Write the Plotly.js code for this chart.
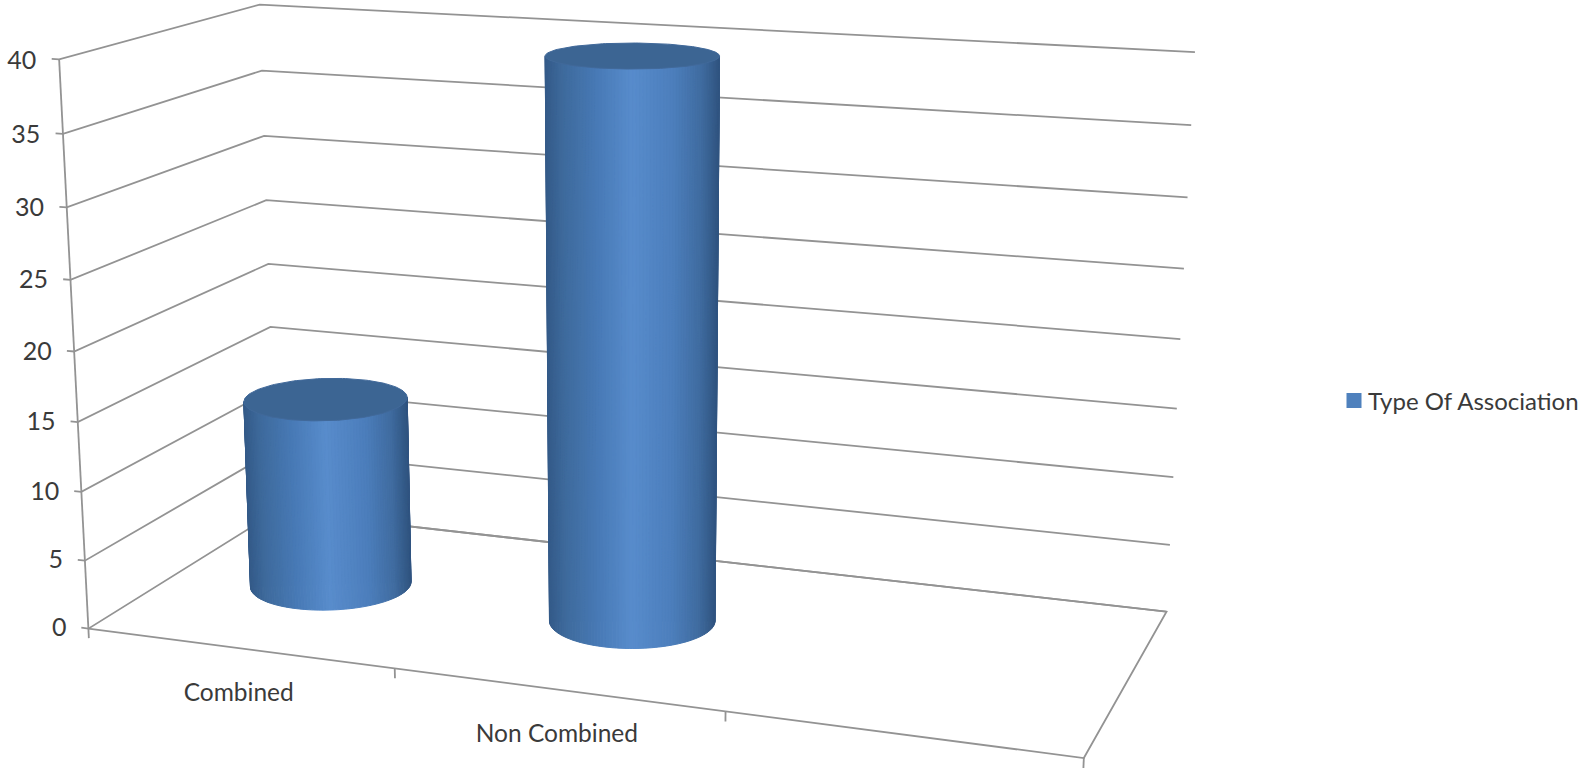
<!DOCTYPE html>
<html>
<head>
<meta charset="utf-8">
<title>Type Of Association</title>
<script src="https://cdn.plot.ly/plotly-3.0.1.min.js"></script>
<style>html,body{margin:0;padding:0;background:#fff}#chart{width:1590px;height:768px}</style>
</head>
<body>
<div id="chart"></div>
<script>
// Chart data
const seriesName = 'Type Of Association';
const categories = ['Combined', 'Non Combined', ''];
const seriesValues = [14, 40];
const valueTicks = [0, 5, 10, 15, 20, 25, 30, 35, 40];
const valueMax = 40;

// Box corners as (category fraction, depth fraction, value fraction) -> plot position.
const calibration = [
  [0, 0, 0, 88, 628], [1, 0, 0, 1085, 758], [0, 1, 0, 277, 512], [1, 1, 0, 1166, 611.5],
  [0, 0, 1, 59.5, 60], [0, 1, 1, 260, 4], [1, 1, 1, 1195, 52],
  [0, 0, 0.375, 78, 422], [0, 0, 0.875, 62.5, 134], [1, 1, 0.375, 1179, 409], [1, 1, 0.875, 1192, 125]
];

function solve(A, b) {
  const n = b.length, M = A.map((r, i) => r.concat(b[i]));
  for (let i = 0; i < n; i++) {
    let p = i;
    for (let k = i + 1; k < n; k++) if (Math.abs(M[k][i]) > Math.abs(M[p][i])) p = k;
    [M[i], M[p]] = [M[p], M[i]];
    for (let k = 0; k < n; k++) {
      if (k === i) continue;
      const f = M[k][i] / M[i][i];
      for (let j = i; j <= n; j++) M[k][j] -= f * M[i][j];
    }
  }
  return M.map((r, i) => r[n] / r[i]);
}

// Least-squares perspective camera from the calibration points.
function fitCamera(pts) {
  const rows = [], rhs = [];
  pts.forEach(([X, Y, Z, x, y]) => {
    rows.push([X, Y, Z, 1, 0, 0, 0, 0, -x * X, -x * Y, -x * Z]); rhs.push(x);
    rows.push([0, 0, 0, 0, X, Y, Z, 1, -y * X, -y * Y, -y * Z]); rhs.push(y);
  });
  const N = 11, AtA = [], Atb = [];
  for (let i = 0; i < N; i++) {
    AtA.push(new Array(N).fill(0)); Atb.push(0);
    rows.forEach((r, k) => {
      for (let j = 0; j < N; j++) AtA[i][j] += r[i] * r[j];
      Atb[i] += r[i] * rhs[k];
    });
  }
  return solve(AtA, Atb);
}
const P = fitCamera(calibration);

function project(u, v, w) {
  const d = P[8] * u + P[9] * v + P[10] * w + 1;
  return [(P[0] * u + P[1] * v + P[2] * w + P[3]) / d, (P[4] * u + P[5] * v + P[6] * w + P[7]) / d];
}
const toPlot = (u, v, value) => project(u, v, value / valueMax);

const traces = [];
function polyline(points, color, width) {
  const xy = points.map(p => toPlot(p[0], p[1], p[2]));
  traces.push({
    type: 'scatter', mode: 'lines', x: xy.map(p => p[0]), y: xy.map(p => p[1]),
    line: { color: color, width: width }, hoverinfo: 'skip', showlegend: false
  });
}

// Walls, floor, axis and tick marks
const gridColor = '#939393', gridWidth = 1.8;
valueTicks.forEach(t => polyline([[-0.008, 0, t], [0, 0, t], [0, 1, t], [1, 1, t]], gridColor, gridWidth));
polyline([[0, 0, 0], [0, 0, valueMax]], gridColor, gridWidth);
polyline([[0, 1, 0], [1, 1, 0], [1, 0, 0], [0, 0, 0]], gridColor, gridWidth);
for (let i = 0; i <= categories.length; i++) {
  const u = i / categories.length;
  polyline([[u, 0, 0], [u, 0, -0.7]], gridColor, gridWidth);
}

// Cylinders
const edgeColor = 'rgb(52,90,136)';
const stops = [[0, [52, 90, 136]], [0.1, [62, 106, 156]], [0.3, [72, 122, 182]], [0.5, [88, 140, 204]],
               [0.74, [76, 126, 188]], [0.9, [64, 108, 160]], [1, [48, 84, 128]]];
function shade(t) {
  t = Math.min(1, Math.max(0, t));
  for (let i = 1; i < stops.length; i++) {
    if (t <= stops[i][0]) {
      const a = stops[i - 1], b = stops[i], f = (t - a[0]) / (b[0] - a[0]);
      const c = a[1].map((ch, k) => Math.round(ch + (b[1][k] - ch) * f));
      return 'rgb(' + c.join(',') + ')';
    }
  }
  return edgeColor;
}
const radiusU = 0.083, radiusV = 0.2, depthMid = 0.5, steps = 160;

function ring(cu, value) {
  const pts = [];
  for (let i = 0; i <= steps; i++) {
    const a = i / steps * 2 * Math.PI;
    pts.push(toPlot(cu + radiusU * Math.cos(a), depthMid + radiusV * Math.sin(a), value));
  }
  return pts;
}

function extremes(points) {
  const xs = points.slice(0, steps).map(p => p[0]);
  return { xs: xs, left: xs.indexOf(Math.min(...xs)), right: xs.indexOf(Math.max(...xs)) };
}

seriesValues.forEach((value, idx) => {
  const cu = (idx + 0.5) / categories.length;
  const low = ring(cu, 0), high = ring(cu, value);
  const base = extremes(low), top = extremes(high);
  const xMin = low[base.left][0], xMax = low[base.right][0];

  // Straight outline joining the outermost points of both rings.
  const outline = [low[base.left], high[top.left], high[top.right], low[base.right], low[base.left]];
  traces.push({
    type: 'scatter', mode: 'lines', fill: 'toself', fillcolor: edgeColor,
    x: outline.map(p => p[0]), y: outline.map(p => p[1]),
    line: { color: edgeColor, width: 1 }, hoverinfo: 'skip', showlegend: false
  });

  // The visible wall runs between the outermost points of the base ring, through the front.
  const iLeft = base.left;
  const iRight = base.right < iLeft ? base.right + steps : base.right;
  for (let i = iLeft; i < iRight; i++) {
    const k = i % steps, n = (k + 1) % steps;
    const a = low[k], b = low[n], c = high[n], d = high[k];
    const col = shade(((a[0] + b[0]) / 2 - xMin) / (xMax - xMin));
    traces.push({
      type: 'scatter', mode: 'lines', fill: 'toself', fillcolor: col,
      x: [a[0], b[0], c[0], d[0], a[0]], y: [a[1], b[1], c[1], d[1], a[1]],
      line: { color: col, width: 1 }, hoverinfo: 'skip', showlegend: false
    });
  }
  traces.push({
    type: 'scatter', mode: 'lines', fill: 'toself', fillcolor: '#3c6593',
    x: high.map(p => p[0]), y: high.map(p => p[1]),
    line: { color: '#41699a', width: 1 }, hoverinfo: 'skip', showlegend: false
  });
});

// Value and category labels
const fontFamily = 'Lato, "Open Sans", sans-serif', textColor = '#3a3a3a';
const valueLabelPos = valueTicks.map(t => toPlot(-0.025, 0, t - 0.3));
traces.push({
  type: 'scatter', mode: 'text', x: valueLabelPos.map(p => p[0]), y: valueLabelPos.map(p => p[1]),
  text: valueTicks.map(String), textposition: 'middle left',
  textfont: { family: fontFamily, size: 25, color: textColor },
  hoverinfo: 'skip', showlegend: false
});
const catLabelPos = categories.map((c, i) => {
  const p = toPlot((i + 0.5) / categories.length, 0, 0);
  return [p[0], p[1] + 34];
});
traces.push({
  type: 'scatter', mode: 'text', x: catLabelPos.map(p => p[0]), y: catLabelPos.map(p => p[1]),
  text: categories, textposition: 'bottom center',
  textfont: { family: fontFamily, size: 24.5, color: textColor },
  hoverinfo: 'skip', showlegend: false
});

// Legend entry
traces.push({
  type: 'scatter', mode: 'markers', name: seriesName, x: [null], y: [null],
  marker: { symbol: 'square', size: 15, color: '#4f81bd' }, hoverinfo: 'skip', showlegend: true
});

Plotly.newPlot('chart', traces, {
  width: 1590, height: 768, margin: { l: 0, r: 0, t: 0, b: 0 },
  paper_bgcolor: '#ffffff', plot_bgcolor: '#ffffff',
  xaxis: { range: [0, 1590], visible: false, fixedrange: true },
  yaxis: { range: [768, 0], visible: false, fixedrange: true },
  showlegend: true,
  legend: { x: 1335 / 1590, y: 1 - 401 / 768, xanchor: 'left', yanchor: 'middle',
            bgcolor: 'rgba(0,0,0,0)', font: { family: fontFamily, size: 24, color: textColor },
            itemsizing: 'trace' }
}, { displayModeBar: false }).then(() => {
  // Tighten the gap between the legend swatch and its label.
  const label = document.querySelector('.legend .legendtext');
  if (label) label.setAttribute('x', parseFloat(label.getAttribute('x')) - 6);
});
</script>
</body>
</html>
